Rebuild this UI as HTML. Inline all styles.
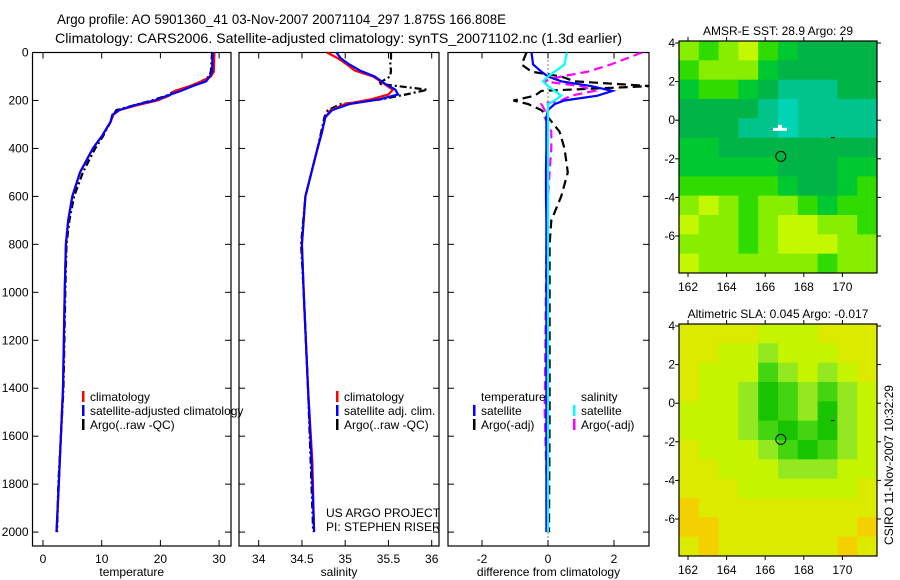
<!DOCTYPE html>
<html><head><meta charset="utf-8">
<style>
html,body{margin:0;padding:0;background:#fff;}
svg{display:block;font-family:"Liberation Sans",sans-serif;}
</style></head>
<body>
<svg id="fig" width="900" height="580" viewBox="0 0 900 580" xmlns="http://www.w3.org/2000/svg">
<text x="57" y="24" font-size="14" textLength="449" lengthAdjust="spacingAndGlyphs">Argo profile: AO 5901360_41 03-Nov-2007 20071104_297 1.875S 166.808E</text>
<text x="55" y="43" font-size="14" textLength="567" lengthAdjust="spacingAndGlyphs">Climatology: CARS2006. Satellite-adjusted climatology: synTS_20071102.nc (1.3d earlier)</text>
<g id="g1"></g>
<g id="g2"></g>
<g id="g3"></g>
<g id="m1"></g>
<g id="m2"></g>
<text transform="translate(893,465) rotate(-90)" font-size="12" text-anchor="middle">CSIRO 11-Nov-2007 10:32:29</text>
</svg>
<script>
// ---- data ----
const tDepth = [0,80,100,120,140,160,180,200,220,240,260,290,350,400,500,600,700,800,1000,1400,1800,2000];
const tClim  = [29.2,29.1,28.6,27,25,22.5,21.5,19.5,16,13,12,11.5,10,8.5,6.3,5.0,4.3,3.9,3.7,3.4,2.7,2.3];
const tSat   = [28.9,28.8,28.4,27.8,25.5,23.5,21.2,19,15.5,13,11.8,11.5,10,8.5,6.3,5.0,4.3,3.9,3.7,3.4,2.7,2.3];
const tArgo  = [28.8,28.6,28.3,27,25.5,22.5,21,18.5,15.5,12.5,12,11.5,10.2,8.9,6.8,5.3,4.5,4.0,3.8,3.5,2.6,2.4];
const sDepth = [0,25,50,75,100,130,155,175,195,215,240,270,335,400,600,800,1000,1400,1700,2000];
const sClim  = [34.79,34.92,35.02,35.11,35.32,35.45,35.55,35.5,35.3,35.0,34.83,34.77,34.73,34.68,34.54,34.5,34.52,34.57,34.62,34.64];
const sSat   = [34.9,34.95,35.05,35.17,35.34,35.46,35.58,35.61,35.4,35.05,34.85,34.77,34.73,34.68,34.54,34.5,34.52,34.57,34.61,34.64];
const sArgo  = [35.53,35.53,35.52,35.53,35.52,35.38,35.95,35.7,35.42,34.95,34.8,34.76,34.72,34.68,34.54,34.49,34.52,34.57,34.6,34.63];
const dDepth = [0,50,80,100,120,140,160,180,200,215,240,270,330,400,500,600,700,800,1500,2000];
const dTsat  = [-0.5,-0.45,-0.2,0,0.4,1.3,1.95,1.5,0.5,0.2,0,-0.05,-0.05,-0.05,-0.06,-0.06,-0.05,-0.05,-0.05,-0.05];
const dSsat  = [0.57,0.5,0.2,0,-0.15,0.0,0.2,0.4,0.2,0.0,0.0,0.0,0.0,0.0,0.0,0.0,0.0,0.0,0.0,0.0];
const dTargo = [-0.65,-0.8,-0.5,0.4,0.8,3.1,-0.2,-0.4,-1.05,-0.6,-0.2,0,0.35,0.5,0.6,0.4,0.1,0.05,0.05,0.03];
const dSargo = [2.85,1.9,1.2,0.4,-0.15,1.0,1.4,0.7,0.4,-0.2,-0.1,-0.1,0.1,0.1,0.05,0.0,0.0,-0.05,-0.1,0.0];
const depthTicks = [0,200,400,600,800,1000,1200,1400,1600,1800,2000];
const tTicks = [0,10,20,30];
const sTicks = [34,34.5,35,35.5,36];
const sTickLabels = ["34","34.5","35","35.5","36"];
const dTicks = [-2,0,2];
const lonTicks = [162,164,166,168,170];
const latTicks = [4,2,0,-2,-4,-6];
const sstGrid = [
[1,2,1,0,2,3,4,4,4,4],
[2,1,1,1,3,4,4,4,4,4],
[3,2,2,3,4,5,5,5,4,4],
[4,4,4,4,5,6,5,5,5,5],
[4,4,4,5,5,6,5,5,5,5],
[3,3,4,4,4,4,4,4,4,4],
[3,3,3,3,3,4,4,4,3,3],
[2,2,2,2,2,3,4,4,3,2],
[1,0,1,2,1,1,2,3,2,2],
[0,1,1,2,1,0,0,1,1,2],
[1,1,1,2,1,0,0,0,1,1],
[0,1,1,1,1,1,1,2,1,1]];
const slaGrid = [
[1,1,1,1,2,2,2,1,1,1],
[1,1,2,2,3,2,2,2,1,1],
[1,2,2,2,4,3,2,3,2,1],
[1,2,2,3,5,4,3,4,3,2],
[2,2,2,3,5,4,3,5,3,2],
[2,2,2,3,4,5,4,5,3,2],
[1,2,2,2,3,4,5,4,3,2],
[1,1,2,2,2,3,3,3,2,2],
[1,1,1,2,2,2,2,2,2,1],
[0,1,1,1,1,1,1,1,1,1],
[0,0,1,1,1,1,1,1,1,0],
[1,0,1,1,1,1,1,1,0,1]];
const sstColors = ["#c4f800","#88ee00","#30dc00","#00c830","#00b448","#00c48c","#00d4b4"];
const slaColors = ["#f4d000","#dcea00","#c4f400","#94e820","#44d410","#18c400"];
const argoLon = 166.808, argoLat = -1.875;

const NS="http://www.w3.org/2000/svg";
function mk(parent,tag,attrs){const e=document.createElementNS(NS,tag);for(const k in attrs)e.setAttribute(k,attrs[k]);parent.appendChild(e);return e;}
const Y0=52.5, YS=0.2398, TOP=52.5, BOT=546;
const yD=d=>Y0+d*YS;

function panel(g,left,right,xf,xt,xl,title,showY){
  const fr=mk(g,'rect',{x:left,y:TOP,width:right-left,height:BOT-TOP,fill:'none',stroke:'#000','stroke-width':1.2});
  
  
  depthTicks.forEach(d=>{
    const y=yD(d);
    const a=mk(g,'line',{x1:left,x2:left+6,y1:y,y2:y,stroke:'#000'});
    
    
    const b=mk(g,'line',{x1:right-6,x2:right,y1:y,y2:y,stroke:'#000'});
    
    
    if(showY){const t=mk(g,'text',{x:left-4,y:y+4,'font-size':12,'text-anchor':'end'});t.textContent=d;
      
      }
  });
  xt.forEach((v,i)=>{
    const x=xf(v);
    const a=mk(g,'line',{x1:x,x2:x,y1:BOT,y2:BOT-6,stroke:'#000'});
    
    
    const b=mk(g,'line',{x1:x,x2:x,y1:TOP,y2:TOP+6,stroke:'#000'});
    
    
    const t=mk(g,'text',{x:x,y:BOT+17,'font-size':12,'text-anchor':'middle'});t.textContent=xl[i];
    
    
  });
  const t=mk(g,'text',{x:(left+right)/2,y:576,'font-size':12,'text-anchor':'middle'});t.textContent=title;
  
  
}
function line(g,xf,depth,vals,color,dash,name,left,right){
  const pts=depth.map((d,i)=>xf(vals[i]).toFixed(1)+','+yD(d).toFixed(1)).join(' ');
  const p=mk(g,'polyline',{points:pts,fill:'none',stroke:color,'stroke-width':2.2,'stroke-dasharray':dash||'none'});
  
  
  if(left!==undefined){
    const id='c'+name;
    const cp=mk(g,'clipPath',{id:id});mk(cp,'rect',{x:left,y:TOP,width:right-left,height:BOT-TOP});
    p.setAttribute('clip-path','url(#'+id+')');
  }
}
function legend(g,x,y,items){
  items.forEach((it,i)=>{
    const yy=y+i*14;
    const r=mk(g,'rect',{x:x,y:yy-10,width:2.5,height:11,fill:it[1]});
    
    
    const t=mk(g,'text',{x:x+8,y:yy,'font-size':12});t.textContent=it[0];
    
    
  });
}
// temperature panel
const g1=document.getElementById('g1');
const xT=v=>43+v*5.87;
panel(g1,32.5,231,xT,tTicks,tTicks.map(String),'temperature',true);
line(g1,xT,tDepth,tArgo,'#000','7,3,2,3','temp-argo-line');
line(g1,xT,tDepth,tClim,'#f00',null,'temp-climatology-line');
line(g1,xT,tDepth,tSat,'#00f',null,'temp-satellite-line');
legend(g1,82,401,[['climatology','#f00'],['satellite-adjusted climatology','#00f'],['Argo(..raw -QC)','#000']]);
// salinity panel
const g2=document.getElementById('g2');
const xS=v=>258.7+(v-34)*86.5;
panel(g2,239,439,xS,sTicks,sTickLabels,'salinity',false);
line(g2,xS,sDepth,sArgo,'#000','7,3,2,3','sal-argo-line');
line(g2,xS,sDepth,sClim,'#f00',null,'sal-climatology-line');
line(g2,xS,sDepth,sSat,'#00f',null,'sal-satellite-line');
legend(g2,336,401,[['climatology','#f00'],['satellite adj. clim.','#00f'],['Argo(..raw -QC)','#000']]);
{const a=mk(g2,'text',{x:326,y:517,'font-size':12});a.textContent='US ARGO PROJECT';


const b=mk(g2,'text',{x:326,y:531,'font-size':12});b.textContent='PI: STEPHEN RISER';

}
// difference panel
const g3=document.getElementById('g3');
const xDf=v=>548+v*33;
panel(g3,448,649,xDf,dTicks,dTicks.map(String),'difference from climatology',false);
{const z=mk(g3,'line',{x1:548,x2:548,y1:TOP,y2:BOT,stroke:'#000','stroke-width':1,'stroke-dasharray':'1,3'});

}
line(g3,xDf,dDepth,dTargo,'#000','9,5','diff-temp-argo-line',448,649);
line(g3,xDf,dDepth,dSargo,'#f0f','9,5','diff-sal-argo-line',448,649);
line(g3,xDf,dDepth,dTsat,'#00f',null,'diff-temp-satellite-line',448,649);
line(g3,xDf,dDepth,dSsat,'#0ff',null,'diff-sal-satellite-line',448,649);
{const a=mk(g3,'text',{x:481,y:401,'font-size':12});a.textContent='temperature';


const b=mk(g3,'text',{x:581,y:401,'font-size':12});b.textContent='salinity';

}
legend(g3,473,415,[['satellite','#00f'],['Argo(-adj)','#000']]);
legend(g3,573,415,[['satellite','#0ff'],['Argo(-adj)','#f0f']]);
// maps
function map(g,top,grid,colors,title,extra){
  const L=679,R=877,B=top+232;
  const lonX=v=>688+(v-162)*19.3;
  const latY=v=>top+2+(4-v)*19.3;
  const nr=grid.length,nc=grid[0].length;
  const cw=(R-L)/nc,ch=(B-top)/nr;
  grid.forEach((row,i)=>row.forEach((v,j)=>{
    const r=mk(g,'rect',{x:L+j*cw,y:top+i*ch,width:cw+0.5,height:ch+0.5,fill:colors[v]});
    
    
  }));
  const fr=mk(g,'rect',{x:L,y:top,width:R-L,height:B-top,fill:'none',stroke:'#000','stroke-width':1.2});
  
  
  lonTicks.forEach(v=>{const x=lonX(v);
    mk(g,'line',{x1:x,x2:x,y1:top,y2:top-4,stroke:'#000'});
    mk(g,'line',{x1:x,x2:x,y1:B,y2:B+4,stroke:'#000'});
    const t=mk(g,'text',{x:x,y:B+18,'font-size':12,'text-anchor':'middle'});t.textContent=v;
    
    });
  latTicks.forEach(v=>{const y=latY(v);
    mk(g,'line',{x1:L,x2:L-4,y1:y,y2:y,stroke:'#000'});
    mk(g,'line',{x1:R,x2:R+4,y1:y,y2:y,stroke:'#000'});
    const t=mk(g,'text',{x:L-4,y:y+4,'font-size':12,'text-anchor':'end'});t.textContent=v;
    
    });
  const t=mk(g,'text',{x:778,y:top-6,'font-size':12,'text-anchor':'middle'});t.textContent=title;
  
  
  const c=mk(g,'circle',{cx:lonX(argoLon),cy:latY(argoLat),r:5,fill:'none',stroke:'#000','stroke-width':1});
  
  
  mk(g,'line',{x1:lonX(169.4),x2:lonX(169.6),y1:latY(-0.9),y2:latY(-0.9),stroke:'#000'});
  if(extra){const p=mk(g,'path',{d:'M'+(lonX(166.4))+','+(latY(-0.4))+'h5v-3h4v3h5v3h-14z',fill:'#fff'});
    
    }
}
map(document.getElementById('m1'),41,sstGrid,sstColors,'AMSR-E SST: 28.9 Argo: 29',true);
map(document.getElementById('m2'),324,slaGrid,slaColors,'Altimetric SLA: 0.045 Argo: -0.017',false);
</script>
</body></html>
